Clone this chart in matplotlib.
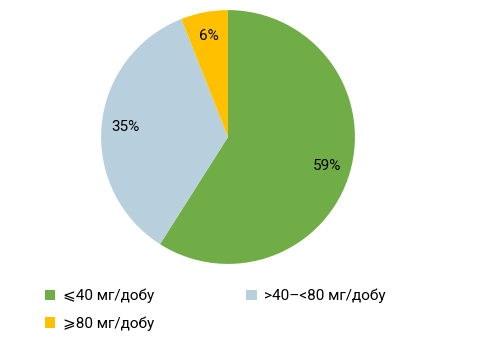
import matplotlib
matplotlib.use("Agg")
import matplotlib.pyplot as plt
from matplotlib.patches import Patch

labels = ["⩽40 мг/добу", ">40–<80 мг/добу", "⩾80 мг/добу"]
values = [59, 35, 6]
colors = ["#70AD47", "#B8D0DD", "#FFC000"]

plt.rcParams['font.family'] = ['Roboto', 'DejaVu Sans']

fig = plt.figure(figsize=(4.78, 3.54), dpi=100)
w, h = 0.531, 0.7175
ax = fig.add_axes([0.477 - w / 2, 0.613 - h / 2, w, h])
wedges, texts, autotexts = ax.pie(values, colors=colors, startangle=90, counterclock=False,
                                  autopct=lambda p: f"{p:.0f}%", pctdistance=0.81,
                                  textprops=dict(fontsize=11, color="black"))
ax.set_xlim(-1, 1)
ax.set_ylim(-1, 1)
ax.set_aspect('equal')

handles = [Patch(facecolor=c, edgecolor='none') for c in colors]
order = [0, 2, 1]
leg = fig.legend([handles[i] for i in order], [labels[i] for i in order],
                 ncol=2, loc='upper left', bbox_to_anchor=(0.0645, 0.223),
                 frameon=False, fontsize=11, handlelength=0.7, handleheight=0.7,
                 handletextpad=0.5, columnspacing=6.0, labelspacing=0.85)
fig.savefig("out.png", dpi=100, facecolor="white")
